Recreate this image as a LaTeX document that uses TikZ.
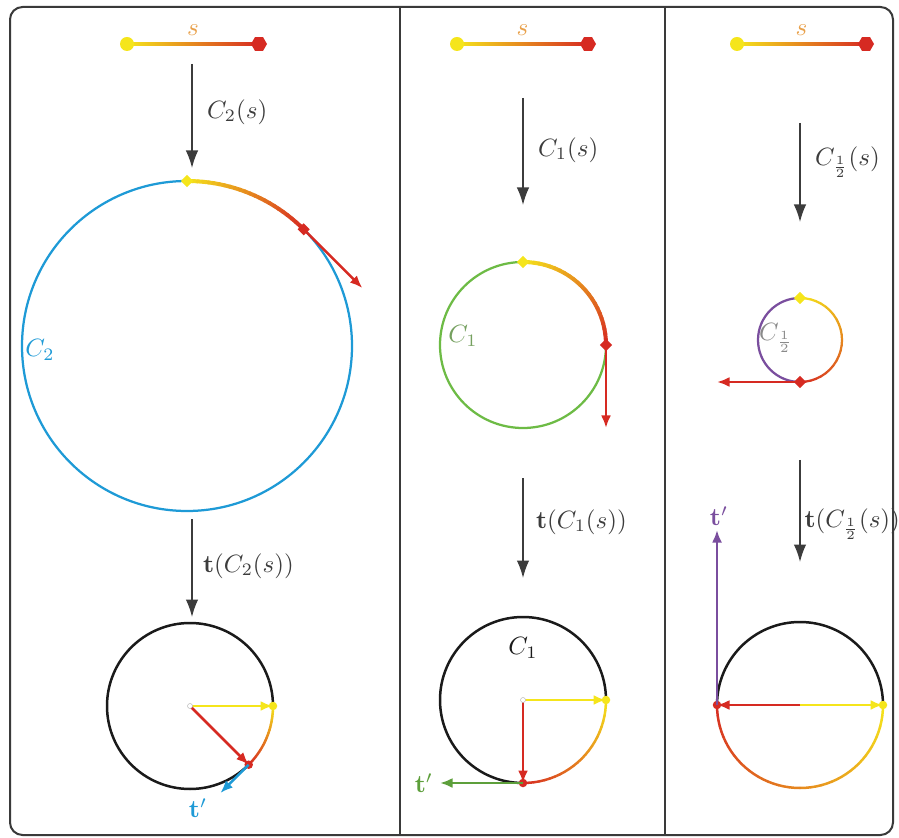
\documentclass[tikz,border=0pt]{standalone}
\usepackage{xcolor}
\usepackage{tikz}
\usepackage{amsmath,amssymb}
\usetikzlibrary{arrows.meta,shapes.geometric}
\definecolor{Yel}{HTML}{F5E51B}
\definecolor{Rd}{HTML}{D62A22}
\definecolor{Org}{HTML}{E8A04A}
\definecolor{Blu}{HTML}{1E9AD6}
\definecolor{Grn}{HTML}{6DBB45}
\definecolor{Ppl}{HTML}{7A4E9E}
\definecolor{Ink}{HTML}{1A1A1A}
\definecolor{Mute}{HTML}{8A8A8A}
\definecolor{Frame}{HTML}{3A3A3A}

\tikzset{
  map/.style={draw=Ink!85, line width=0.6pt, -{Latex[length=7pt,width=5pt]}},
  vec/.style={line width=1pt, -{Latex[length=5pt,width=4pt]}},
  ydot/.style={circle, fill=Yel, inner sep=0pt, minimum size=5.6pt},
  rhex/.style={regular polygon, regular polygon sides=6, fill=Rd, inner sep=0pt, minimum size=6.4pt},
  ydia/.style={diamond, fill=Yel, inner sep=0pt, minimum size=5pt},
  rdia/.style={diamond, fill=Rd, inner sep=0pt, minimum size=5pt},
  yend/.style={circle, fill=Yel, inner sep=0pt, minimum size=3.4pt},
  rend/.style={circle, fill=Rd, inner sep=0pt, minimum size=3.4pt},
  orig/.style={circle, draw=Mute!60, fill=white, line width=0.2pt, inner sep=0pt, minimum size=2pt},
  lab/.style={font=\normalsize, inner sep=1pt}
}

\newcommand{\gradarc}[5]{%
  \foreach \k in {0,...,23} {
    \pgfmathsetmacro{\ga}{#3+(#4-#3)*\k/24}
    \pgfmathsetmacro{\gb}{#3+(#4-#3)*(\k+1)/24}
    \pgfmathtruncatemacro{\gc}{100*(\k+0.5)/24}
    \draw[line width=#5, line cap=round, Rd!\gc!Yel] (#1) ++(\ga:#2) arc[start angle=\ga, end angle=\gb, radius=#2];
  }}

\begin{document}
\begin{tikzpicture}[x=0.4pt,y=0.4pt]
  \useasboundingbox (0,0) rectangle (899,-838);
  \draw[Frame, line width=0.8pt, rounded corners=5pt] (10,-7) rectangle (893,-835);
  \draw[Frame, line width=0.8pt] (400,-7) -- (400,-835) (665,-7) -- (665,-835);

  \foreach \p/\xa/\xb in {L/127/259, M/457/588, R/737/866} {
    \shade[left color=Yel, right color=Rd] (\xa,-42.5) rectangle (\xb,-45.5);
    \node[ydot] (ya\p) at (\xa,-44) {};
    \node[rhex] (rb\p) at (\xb,-44) {};
    \node[lab, Org] (s\p) at ({(\xa+\xb)/2},-30) {$s$};
  }

  \foreach \p/\x/\ya/\yb/\yc/\yd in {L/192/64/168/519/617, M/523/98/205/478/578, R/800/123/222/460/562} {
    \coordinate (ma\p) at (\x,-\ya);
    \coordinate (mb\p) at (\x,-\yb);
    \coordinate (mc\p) at (\x,-\yc);
    \coordinate (md\p) at (\x,-\yd);
    \draw[map] (ma\p) -- (mb\p);
    \draw[map] (mc\p) -- (md\p);
  }
  \node[lab, Ink!85, anchor=west] (fL) at (204,-112) {$C_2(s)$};
  \node[lab, Ink!85, anchor=west] (gL) at (200,-566) {$\mathbf{t}(C_2(s))$};
  \node[lab, Ink!85, anchor=west] (fM) at (535,-150) {$C_1(s)$};
  \node[lab, Ink!85, anchor=west] (gM) at (533,-522) {$\mathbf{t}(C_1(s))$};
  \node[lab, Ink!85, anchor=west] (fR) at (812,-162) {$C_{\frac{1}{2}}(s)$};
  \node[lab, Ink!85, anchor=west, inner sep=0pt] (gR) at (804,-524) {$\mathbf{t}(C_{\frac{1}{2}}(s))$};

  \coordinate (cL) at (187,-346);
  \draw[Blu, line width=0.9pt] (cL) ++(90:165) arc[start angle=90, end angle=405, radius=165];
  \gradarc{cL}{165}{90}{45}{1.6pt}
  \path (cL) ++(90:165) node[ydia] (yL) {};
  \path (cL) ++(45:165) node[rdia] (rL) {};
  \path (rL.center) ++(-45:83) coordinate (tL);
  \draw[vec, Rd] (rL.center) -- (tL);
  \node[lab, Blu] (CL) at (40,-350) {$C_2$};

  \coordinate (cM) at (523,-345);
  \draw[Grn, line width=0.9pt] (cM) ++(90:83) arc[start angle=90, end angle=360, radius=83];
  \gradarc{cM}{83}{90}{0}{1.6pt}
  \path (cM) ++(90:83) node[ydia] (yM) {};
  \path (cM) ++(0:83) node[rdia] (rM) {};
  \path (rM.center) ++(-90:83) coordinate (tM);
  \draw[vec, Rd] (rM.center) -- (tM);
  \node[lab, Grn!55!gray] (CM) at (463,-336) {$C_1$};

  \coordinate (cR) at (800,-340);
  \draw[Ppl, line width=0.9pt] (cR) ++(90:42) arc[start angle=90, end angle=270, radius=42];
  \gradarc{cR}{42}{90}{-90}{0.9pt}
  \path (cR) ++(90:42) node[ydia] (yR) {};
  \path (cR) ++(-90:42) node[rdia] (rR) {};
  \path (rR.center) ++(180:83) coordinate (tR);
  \draw[vec, Rd] (rR.center) -- (tR);
  \node[lab, Mute] (CR) at (776,-338) {$C_{\frac{1}{2}}$};

  \coordinate (oL) at (190,-706);
  \draw[Ink, line width=1pt] (oL) ++(0:83) arc[start angle=0, end angle=315, radius=83];
  \gradarc{oL}{83}{0}{-45}{1pt}
  \path (oL) ++(0:83) node[yend] (eyL) {};
  \path (oL) ++(-45:83) node[rend] (erL) {};
  \draw[vec, Yel] (oL) -- (eyL.center);
  \draw[vec, Rd] (oL) -- (erL.center);
  \path (erL.center) ++(-135:40) coordinate (nL);
  \draw[vec, Blu] (erL.center) -- (nL);
  \node[orig] (zL) at (oL) {};
  \node[lab, Blu] (dL) at (198,-808) {$\mathbf{t}'$};

  \coordinate (oM) at (523,-700);
  \draw[Ink, line width=1pt] (oM) ++(0:83) arc[start angle=0, end angle=270, radius=83];
  \gradarc{oM}{83}{0}{-90}{1pt}
  \path (oM) ++(0:83) node[yend] (eyM) {};
  \path (oM) ++(-90:83) node[rend] (erM) {};
  \draw[vec, Yel] (oM) -- (eyM.center);
  \draw[vec, Rd] (oM) -- (erM.center);
  \path (erM.center) ++(180:83) coordinate (nM);
  \draw[vec, Grn!85!black] (erM.center) -- (nM);
  \node[orig] (zM) at (oM) {};
  \node[lab, Ink] (CMb) at (523,-648) {$C_1$};
  \node[lab, Grn!85!black, anchor=east] (dM) at (436,-783) {$\mathbf{t}'$};

  \coordinate (oR) at (800,-705);
  \draw[Ink, line width=1pt] (oR) ++(0:83) arc[start angle=0, end angle=180, radius=83];
  \gradarc{oR}{83}{0}{-180}{1pt}
  \path (oR) ++(0:83) node[yend] (eyR) {};
  \path (oR) ++(180:83) node[rend] (erR) {};
  \draw[vec, Yel] (oR) -- (eyR.center);
  \draw[vec, Rd] (oR) -- (erR.center);
  \path (erR.center) ++(90:175) coordinate (nR);
  \draw[vec, Ppl] (erR.center) -- (nR);
  \node[lab, Ppl] (dR) at (719,-516) {$\mathbf{t}'$};
\end{tikzpicture}
\end{document}
